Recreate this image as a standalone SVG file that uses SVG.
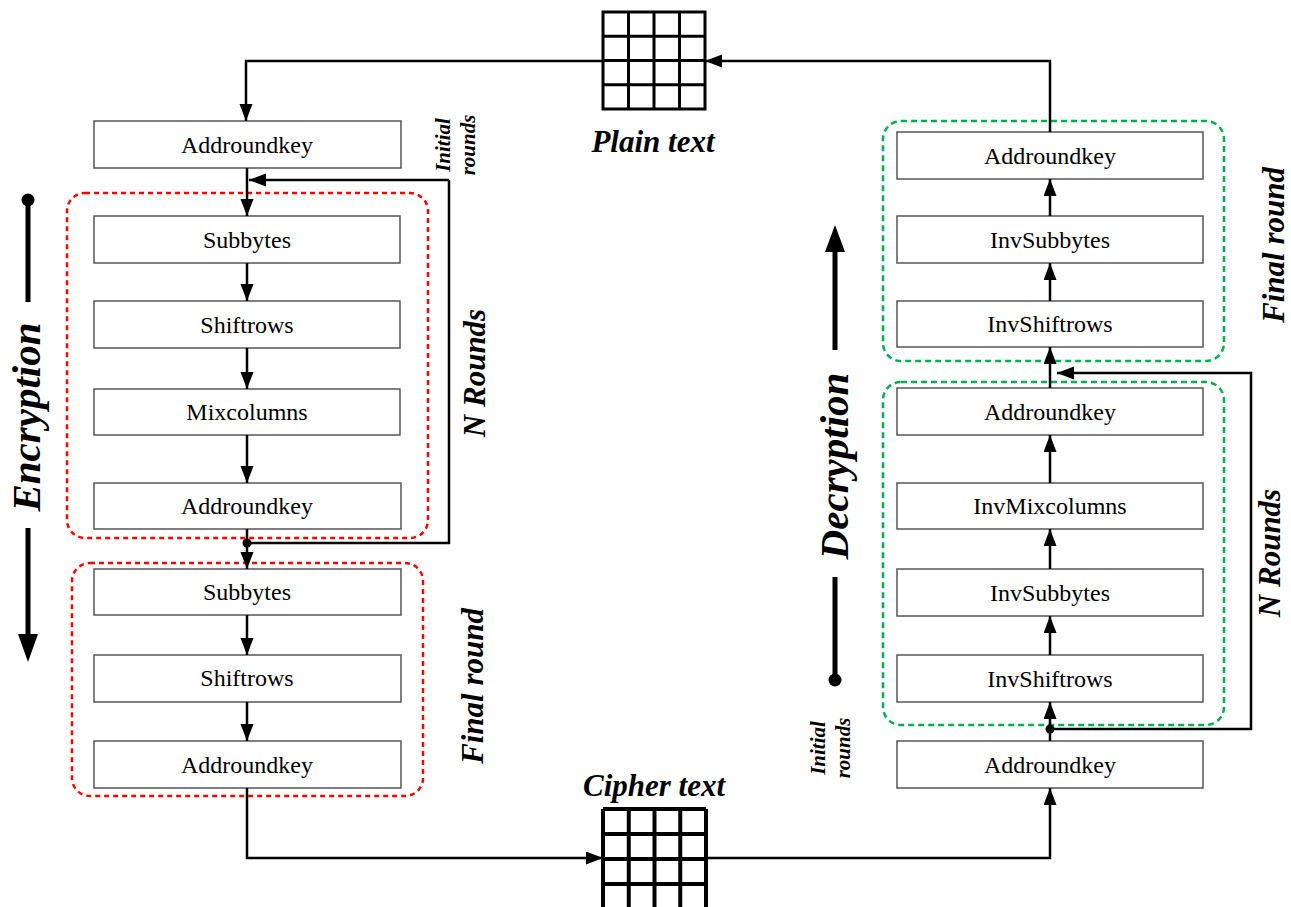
<svg xmlns="http://www.w3.org/2000/svg" width="1291" height="907" viewBox="0 0 1291 907">
<style>
.box{fill:#fff;stroke:#555;stroke-width:1.5}
.lbl{font-family:"Liberation Serif","Times New Roman",serif;font-size:24px;text-anchor:middle;fill:#000}
.bi{font-family:"Liberation Serif","Times New Roman",serif;font-weight:bold;font-style:italic;text-anchor:middle;fill:#000}
.red{fill:none;stroke:#ff0000;stroke-width:2.5;stroke-dasharray:5 4}
.grn{fill:none;stroke:#00b050;stroke-width:2.5;stroke-dasharray:6 4}
.ln{fill:none;stroke:#000;stroke-width:2.5}
.grid{fill:none;stroke:#000}
</style>
<defs>
<marker id="ah" markerUnits="userSpaceOnUse" markerWidth="18" markerHeight="14" refX="17" refY="6.5" orient="auto">
<path d="M0,0 L17,6.5 L0,13 z" fill="#000"/>
</marker>
</defs>
<rect width="1291" height="907" fill="#fff"/>

<g id="groups">
<rect id="enc-nrounds" class="red" x="67" y="193" width="361" height="345" rx="18"/>
<rect id="enc-final" class="red" x="72" y="563" width="351" height="233" rx="18"/>
<rect id="dec-final" class="grn" x="883" y="121" width="341" height="240" rx="18"/>
<rect id="dec-nrounds" class="grn" x="883" y="382" width="341" height="343" rx="18"/>
</g>

<g id="plaintext">
<g class="grid" stroke-width="3">
<rect x="603" y="12" width="102" height="97"/>
<path d="M628.5,12V109M654,12V109M679.5,12V109M603,36.25H705M603,60.5H705M603,84.75H705"/>
</g>
<text class="bi" x="653" y="152" font-size="31">Plain text</text>
</g>

<g id="ciphertext">
<g class="grid" stroke-width="4">
<path d="M603,809V910M628.75,809V910M654.5,809V910M680.25,809V910M706,809V910M603,809H706M603,834H706M603,859H706M603,884H706"/>
</g>
<text class="bi" x="654" y="796" font-size="31">Cipher text</text>
</g>

<g id="e-addroundkey0"><rect class="box" x="94" y="121" width="307" height="47"/><text class="lbl" x="247" y="153">Addroundkey</text></g>
<g id="e-subbytes1"><rect class="box" x="94" y="216" width="306" height="47"/><text class="lbl" x="247" y="248">Subbytes</text></g>
<g id="e-shiftrows1"><rect class="box" x="94" y="301" width="306" height="47"/><text class="lbl" x="247" y="333">Shiftrows</text></g>
<g id="e-mixcolumns"><rect class="box" x="94" y="389" width="306" height="46"/><text class="lbl" x="247" y="420">Mixcolumns</text></g>
<g id="e-addroundkey1"><rect class="box" x="94" y="483" width="307" height="46"/><text class="lbl" x="247" y="514">Addroundkey</text></g>
<g id="e-subbytes2"><rect class="box" x="94" y="569" width="307" height="46"/><text class="lbl" x="247" y="600">Subbytes</text></g>
<g id="e-shiftrows2"><rect class="box" x="94" y="655" width="307" height="47"/><text class="lbl" x="247" y="686">Shiftrows</text></g>
<g id="e-addroundkey2"><rect class="box" x="94" y="741" width="307" height="47"/><text class="lbl" x="247" y="773">Addroundkey</text></g>

<g id="d-addroundkey-final"><rect class="box" x="897" y="132" width="306" height="47"/><text class="lbl" x="1050" y="164">Addroundkey</text></g>
<g id="d-invsubbytes-final"><rect class="box" x="897" y="216" width="306" height="47"/><text class="lbl" x="1050" y="248">InvSubbytes</text></g>
<g id="d-invshiftrows-final"><rect class="box" x="897" y="301" width="306" height="46"/><text class="lbl" x="1050" y="332">InvShiftrows</text></g>
<g id="d-addroundkey1"><rect class="box" x="897" y="388" width="306" height="47"/><text class="lbl" x="1050" y="420">Addroundkey</text></g>
<g id="d-invmixcolumns"><rect class="box" x="897" y="483" width="306" height="46"/><text class="lbl" x="1050" y="514">InvMixcolumns</text></g>
<g id="d-invsubbytes1"><rect class="box" x="897" y="569" width="306" height="47"/><text class="lbl" x="1050" y="601">InvSubbytes</text></g>
<g id="d-invshiftrows1"><rect class="box" x="897" y="655" width="306" height="47"/><text class="lbl" x="1050" y="687">InvShiftrows</text></g>
<g id="d-addroundkey0"><rect class="box" x="897" y="741" width="306" height="47"/><text class="lbl" x="1050" y="773">Addroundkey</text></g>

<g id="connectors">
<path class="ln" d="M603,61 H246 V121" marker-end="url(#ah)"/>
<path class="ln" d="M247,168 V216" marker-end="url(#ah)"/>
<path class="ln" d="M449,180 H249" marker-end="url(#ah)"/>
<path class="ln" d="M247,263 V301" marker-end="url(#ah)"/>
<path class="ln" d="M247,348 V389" marker-end="url(#ah)"/>
<path class="ln" d="M247,435 V483" marker-end="url(#ah)"/>
<path class="ln" d="M247,529 V569" marker-end="url(#ah)"/>
<path class="ln" d="M247,543 H449 V180"/>
<path class="ln" d="M247,615 V655" marker-end="url(#ah)"/>
<path class="ln" d="M247,702 V741" marker-end="url(#ah)"/>
<path class="ln" d="M247,788 V858 H603" marker-end="url(#ah)"/>
<path class="ln" d="M706,858 H1050 V788" marker-end="url(#ah)"/>
<path class="ln" d="M1050,741 V702" marker-end="url(#ah)"/>
<path class="ln" d="M1050,729 H1251 V373 H1057" marker-end="url(#ah)"/>
<path class="ln" d="M1050,655 V616" marker-end="url(#ah)"/>
<path class="ln" d="M1050,569 V529" marker-end="url(#ah)"/>
<path class="ln" d="M1050,483 V435" marker-end="url(#ah)"/>
<path class="ln" d="M1050,388 V347" marker-end="url(#ah)"/>
<path class="ln" d="M1050,301 V263" marker-end="url(#ah)"/>
<path class="ln" d="M1050,216 V179" marker-end="url(#ah)"/>
<path class="ln" d="M1050,132 V61 H705" marker-end="url(#ah)"/>
<circle cx="247" cy="543" r="4.5" fill="#000"/>
<circle cx="1050" cy="729" r="4.5" fill="#000"/>
</g>

<g id="encryption-label">
<circle cx="28" cy="200" r="6.5" fill="#000"/>
<path d="M28,200 V302 M28,528 V636" stroke="#000" stroke-width="5" fill="none"/>
<path d="M18,634 L38,634 L28,662 z" fill="#000"/>
<text class="bi" font-size="41" transform="translate(40,417) rotate(-90)">Encryption</text>
</g>

<g id="decryption-label">
<circle cx="835" cy="680" r="6.5" fill="#000"/>
<path d="M835,680 V577 M835,350 V250" stroke="#000" stroke-width="5" fill="none"/>
<path d="M825,252 L845,252 L835,225 z" fill="#000"/>
<text class="bi" font-size="41" transform="translate(848,466) rotate(-90)">Decryption</text>
</g>

<g id="side-labels">
<text class="bi" font-size="31" transform="translate(485,373) rotate(-90)">N Rounds</text>
<text class="bi" font-size="31" transform="translate(483,686) rotate(-90)">Final round</text>
<text class="bi" font-size="31" transform="translate(1284,245) rotate(-90)">Final round</text>
<text class="bi" font-size="31" transform="translate(1280,553) rotate(-90)">N Rounds</text>
<text class="bi" font-size="21" transform="translate(450,145) rotate(-90)">Initial</text>
<text class="bi" font-size="21" transform="translate(475,145) rotate(-90)">rounds</text>
<text class="bi" font-size="21" transform="translate(825,748) rotate(-90)">Initial</text>
<text class="bi" font-size="21" transform="translate(850,748) rotate(-90)">rounds</text>
</g>
</svg>
